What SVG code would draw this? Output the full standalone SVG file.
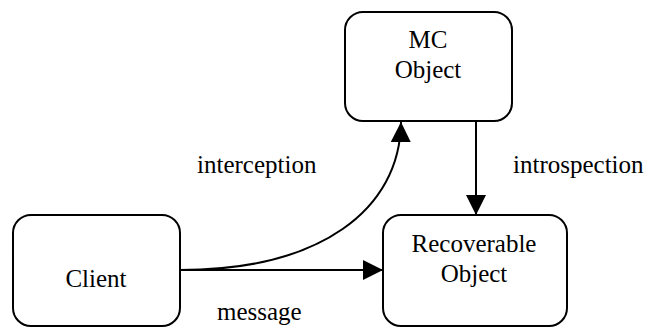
<svg xmlns="http://www.w3.org/2000/svg" width="646" height="327" viewBox="0 0 646 327">
<style>
.box{fill:#fff;stroke:#000;stroke-width:2}
.t{font-family:"Liberation Serif","Times New Roman",serif;font-size:25px;fill:#000}
.c{text-anchor:middle}
.ln{fill:none;stroke:#000;stroke-width:2}
</style>
<defs>
<marker id="ah" viewBox="0 0 20 20" refX="20" refY="10" markerWidth="20" markerHeight="20" markerUnits="userSpaceOnUse" orient="auto">
<path d="M0,0 L20,10 L0,20 Z" fill="#000"/>
</marker>
</defs>
<rect width="646" height="327" fill="#fff"/>
<g id="mc">
<rect class="box" x="345" y="12" width="167" height="109" rx="18"/>
<text class="t c" x="428" y="48">MC</text>
<text class="t c" x="428" y="78">Object</text>
</g>
<g id="client">
<rect class="box" x="13" y="215" width="167" height="111" rx="18"/>
<text class="t c" x="96" y="287">Client</text>
</g>
<g id="recoverable">
<rect class="box" x="383" y="215" width="184" height="111" rx="18"/>
<text class="t c" x="474" y="252">Recoverable</text>
<text class="t c" x="474" y="282">Object</text>
</g>
<g id="connectors">
<path class="ln" d="M180,270 L383,270" marker-end="url(#ah)"/>
<path class="ln" d="M180,270 C320,270 400,210 401,122" marker-end="url(#ah)"/>
<path class="ln" d="M476,121 L476,215" marker-end="url(#ah)"/>
<text class="t" x="197" y="173">interception</text>
<text class="t" x="513" y="173">introspection</text>
<text class="t" x="217" y="320">message</text>
</g>
</svg>
